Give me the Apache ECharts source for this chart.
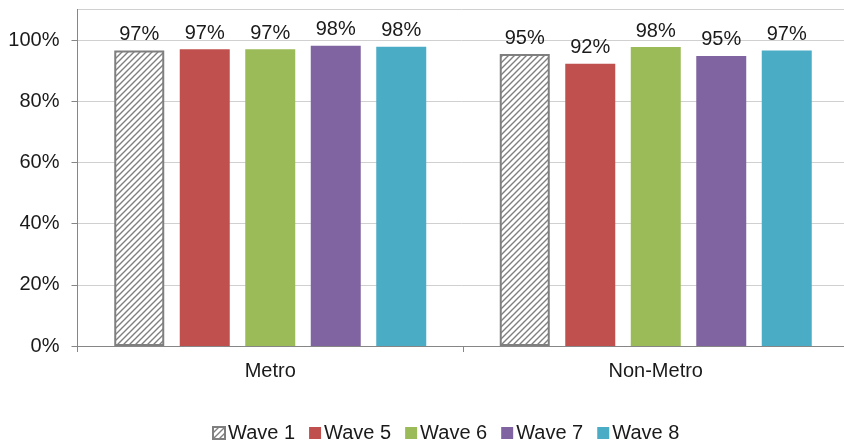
<!DOCTYPE html>
<html>
<head>
<meta charset="utf-8">
<script src="https://cdn.jsdelivr.net/npm/echarts@6/dist/echarts.min.js"></script>
<style>
  html, body { margin: 0; padding: 0; background: #fff; }
  #chart { width: 844px; height: 443px; }
</style>
</head>
<body>
<div id="chart"></div>
<script>
// Share of respondents by area, per survey wave
const categories = ['Metro', 'Non-Metro'];
const waveNames = ['Wave 1', 'Wave 5', 'Wave 6', 'Wave 7', 'Wave 8'];
const wave1 = [96.6, 95.4];
const wave5 = [97.0, 92.2];
const wave6 = [97.0, 97.7];
const wave7 = [98.1, 94.8];
const wave8 = [97.8, 96.6];
const yTicks = [0, 20, 40, 60, 80, 100];

const waveValues = [wave1, wave5, wave6, wave7, wave8];
const waveColors = [null, '#C0504D', '#9BBB59', '#8064A2', '#4BACC6'];

// Diagonal hatch fill for the baseline wave
function hatchPattern() {
  const c = document.createElement('canvas');
  const s = 6;
  c.width = s; c.height = s;
  const g = c.getContext('2d');
  g.fillStyle = '#ffffff';
  g.fillRect(0, 0, s, s);
  g.strokeStyle = '#7f7f7f';
  g.lineWidth = 1.4;
  g.beginPath();
  g.moveTo(0, s); g.lineTo(s, 0);
  g.moveTo(-s / 2, s / 2); g.lineTo(s / 2, -s / 2);
  g.moveTo(s / 2, s * 1.5); g.lineTo(s * 1.5, s / 2);
  g.stroke();
  return { image: c, repeat: 'repeat' };
}

const FONT = 'Liberation Sans, Arial, sans-serif';

const series = waveNames.map((name, i) => {
  const s = {
    name: name,
    type: 'bar',
    data: waveValues[i],
    barWidth: 50,
    barGap: '31%',
    label: {
      show: true,
      position: 'top',
      distance: 6,
      fontFamily: FONT,
      fontSize: 20,
      color: '#1a1a1a',
      formatter: p => Math.round(p.value) + '%'
    },
    itemStyle: {}
  };
  if (i === 0) {
    s.itemStyle = { color: hatchPattern(), borderColor: '#7f7f7f', borderWidth: 2 };
  } else {
    s.itemStyle = { color: waveColors[i] };
  }
  return s;
});

const chart = echarts.init(document.getElementById('chart'), null, { renderer: 'canvas' });
chart.setOption({
  animation: false,
  backgroundColor: '#ffffff',
  grid: {
    left: 77.5, width: 771, top: 9.4, bottom: 97,
    containLabel: false,
    outerBoundsMode: 'none'
  },
  legend: {
    data: waveNames,
    left: 207,
    top: 418,
    icon: 'rect',
    itemWidth: 12,
    itemHeight: 12,
    itemGap: 14,
    textStyle: { fontFamily: FONT, fontSize: 20, color: '#1a1a1a', padding: [0, 0, 0, -2] }
  },
  xAxis: {
    type: 'category',
    data: categories,
    boundaryGap: true,
    axisLine: { show: true, lineStyle: { color: '#868686', width: 1 } },
    axisTick: { show: true, length: 6, lineStyle: { color: '#868686' } },
    axisLabel: { fontFamily: FONT, fontSize: 20, color: '#1a1a1a', margin: 15 }
  },
  yAxis: {
    type: 'value',
    min: 0,
    max: 110,
    interval: 20,
    axisLine: { show: true, lineStyle: { color: '#868686', width: 1 } },
    axisTick: { show: true, length: 6, lineStyle: { color: '#868686' } },
    axisLabel: {
      fontFamily: FONT,
      fontSize: 20,
      color: '#1a1a1a',
      margin: 18,
      showMaxLabel: false,
      formatter: v => (yTicks.indexOf(v) >= 0 ? v + '%' : '')
    },
    splitLine: { show: true, lineStyle: { color: '#d0d0d0', width: 1 } }
  },
  series: series
});
</script>
</body>
</html>
